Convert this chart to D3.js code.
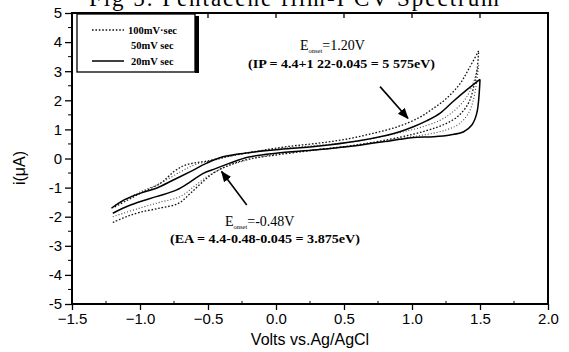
<!DOCTYPE html>
<html><head><meta charset="utf-8">
<script src="https://cdn.jsdelivr.net/npm/d3@7"></script>
<style>body{margin:0;background:#fff}svg{display:block}</style>
</head><body>
<svg id="c" width="569" height="352"></svg>
<script>
// ---- data (volts, current in µA) ----
const xTicks = [-1.5, -1.0, -0.5, 0.0, 0.5, 1.0, 1.5, 2.0];
const yTicks = [-5, -4, -3, -2, -1, 0, 1, 2, 3, 4, 5];
const seriesNames = ["100mV·sec", "50mV sec", "20mV sec"];

// 100 mV/s loop (dotted)
const s100Lower = [[-1.2,-2.2],[-1.1,-2.0],[-1.0,-1.85],[-0.85,-1.7],[-0.72,-1.55],[-0.63,-1.2],[-0.55,-0.85],[-0.46,-0.5],[-0.34,-0.22],[-0.2,-0.02],[0,0.12],[0.3,0.3],[0.6,0.47],[0.9,0.72],[1.1,0.95],[1.25,1.2],[1.35,1.5],[1.42,1.95],[1.46,2.6],[1.48,3.1],[1.49,3.7]];
const s100Upper = [[1.49,3.7],[1.42,3.1],[1.35,2.55],[1.25,2.05],[1.15,1.7],[1.05,1.4],[0.9,1.1],[0.7,0.85],[0.5,0.65],[0.3,0.52],[0.1,0.42],[-0.1,0.28],[-0.3,0.12],[-0.42,0.0],[-0.52,-0.1],[-0.6,-0.15],[-0.68,-0.25],[-0.75,-0.45],[-0.85,-0.85],[-1.0,-1.2],[-1.1,-1.45],[-1.2,-1.7]];
// 50 mV/s loop (fine dashes)
const s50Lower = [[-1.2,-2.0],[-1.0,-1.7],[-0.85,-1.5],[-0.7,-1.3],[-0.6,-0.95],[-0.5,-0.6],[-0.4,-0.35],[-0.25,-0.1],[0,0.15],[0.3,0.3],[0.6,0.45],[0.9,0.68],[1.1,0.82],[1.25,0.98],[1.35,1.2],[1.42,1.6],[1.46,2.2],[1.49,3.2]];
const s50Upper = [[1.49,3.2],[1.45,2.6],[1.4,2.1],[1.3,1.6],[1.2,1.3],[1.05,1.05],[0.9,0.88],[0.6,0.6],[0.3,0.45],[0,0.33],[-0.3,0.12],[-0.45,-0.05],[-0.6,-0.22],[-0.7,-0.45],[-0.85,-0.85],[-1.0,-1.15],[-1.2,-1.65]];
// 20 mV/s loop (solid)
const s20Lower = [[-1.2,-1.88],[-1.07,-1.6],[-0.88,-1.31],[-0.73,-1.08],[-0.63,-0.8],[-0.535,-0.51],[-0.44,-0.34],[-0.34,-0.16],[-0.2,0.05],[0,0.18],[0.3,0.3],[0.6,0.45],[0.8,0.58],[0.91,0.66],[1.01,0.72],[1.16,0.75],[1.28,0.81],[1.38,0.92],[1.44,1.15],[1.476,1.55],[1.5,2.72]];
const s20Upper = [[1.5,2.72],[1.4,2.35],[1.3,1.95],[1.21,1.57],[1.11,1.3],[1.01,1.09],[0.91,0.92],[0.8,0.78],[0.6,0.6],[0.3,0.42],[0,0.3],[-0.2,0.2],[-0.39,0.06],[-0.51,-0.16],[-0.63,-0.45],[-0.755,-0.74],[-0.88,-1.02],[-1.0,-1.2],[-1.12,-1.43],[-1.21,-1.71]];

// annotations (data coords)
const arrowIP = [[0.765,2.47],[0.97,1.38]];
const arrowEA = [[-0.215,-1.6],[-0.40,-0.45]];

// ---- drawing ----
const svg = d3.select("#c");
const m = {l:72, r:548, t:13, b:304};
const x = d3.scaleLinear().domain([-1.5, 2.0]).range([m.l, m.r]);
const y = d3.scaleLinear().domain([-5, 5]).range([m.b, m.t]);

// title (cut at top, as in the scan)
svg.append("text").attr("x", 89).attr("y", 6)
  .attr("font-family","Liberation Serif, Times New Roman, serif").attr("font-size", 23)
  .attr("textLength", 410).attr("lengthAdjust","spacing")
  .text("Fig 5. Pentacene film-I CV Spectrum");

// axes
const sans = "Liberation Sans, Arial, sans-serif";
const xa = svg.append("g").attr("transform",`translate(0,${m.b})`)
  .call(d3.axisBottom(x).tickValues(xTicks).tickSize(6).tickPadding(3).tickFormat(d3.format(".1f")));
xa.selectAll("text").attr("font-family",sans).attr("font-size",15).attr("fill","#000");
const ya = svg.append("g").attr("transform",`translate(${m.l},0)`)
  .call(d3.axisLeft(y).tickValues(yTicks).tickSize(7).tickPadding(3).tickFormat(d=>d));
ya.selectAll("text").attr("font-family",sans).attr("font-size",15).attr("fill","#000");
[xa, ya].forEach(a => { a.select(".domain").remove(); a.selectAll("line").attr("stroke","#000").attr("stroke-width",1.3); });

// minor ticks
const xMinor = d3.range(-1.25, 2.0, 0.5);
svg.append("g").selectAll("line").data(xMinor).join("line")
  .attr("x1", d=>x(d)).attr("x2", d=>x(d)).attr("y1", m.b).attr("y2", m.b-3).attr("stroke","#000");
svg.append("g").selectAll("line").data(xTicks).join("line")
  .attr("x1", d=>x(d)).attr("x2", d=>x(d)).attr("y1", m.t).attr("y2", m.t+5).attr("stroke","#000").attr("stroke-width",1.3);
const yMinor = d3.range(-4.5, 5, 1);
svg.append("g").selectAll("line").data(yMinor).join("line")
  .attr("x1", m.l).attr("x2", m.l-4).attr("y1", d=>y(d)).attr("y2", d=>y(d)).attr("stroke","#000");

// frame
svg.append("rect").attr("x", m.l).attr("y", m.t).attr("width", m.r-m.l).attr("height", m.b-m.t)
  .attr("fill","none").attr("stroke","#000").attr("stroke-width",2);

// axis titles
svg.append("text").attr("x", (m.l+m.r)/2).attr("y", 345).attr("text-anchor","middle")
  .attr("font-family",sans).attr("font-size",16).text("Volts vs.Ag/AgCl");
svg.append("text").attr("transform","translate(25,168) rotate(-90)").attr("text-anchor","middle")
  .attr("font-family",sans).attr("font-size",16).text("i(μA)");

// curves
const line = d3.line().x(d=>x(d[0])).y(d=>y(d[1])).curve(d3.curveCatmullRom.alpha(0.5));
const g = svg.append("g");
const styles = [
  {lower:s100Lower, upper:s100Upper, dash:"1.6,1.8", w:1.3, c:"#111"},
  {lower:s50Lower, upper:s50Upper, dash:"1,2", w:1.1, c:"#444"},
  {lower:s20Lower, upper:s20Upper, dash:null, w:1.5, c:"#000"}
];
styles.forEach(s => {
  [s.lower, s.upper].forEach(arr => {
    g.append("path").attr("d", line(arr)).attr("fill","none").attr("stroke", s.c)
      .attr("stroke-width", s.w).attr("stroke-dasharray", s.dash);
  });
});

// legend
const lg = svg.append("g");
lg.append("rect").attr("x",77).attr("y",14).attr("width",118).attr("height",58)
  .attr("fill","#fff").attr("stroke","#000").attr("stroke-width",1.3);
lg.append("rect").attr("x",195).attr("y",16).attr("width",4).attr("height",57).attr("fill","#000");
const serif = "Liberation Serif, Times New Roman, serif";
const ly = [30, 45, 61];
styles.forEach((s,k) => {
  if (k !== 1) lg.append("line").attr("x1",92).attr("x2",124).attr("y1",ly[k]).attr("y2",ly[k])
    .attr("stroke",s.c).attr("stroke-width",s.w).attr("stroke-dasharray",s.dash);
  lg.append("text").attr("x", k===0?128:131).attr("y", ly[k]+3.5).attr("font-family",serif)
    .attr("font-size",10.5).attr("font-weight","bold").text(seriesNames[k]);
});

// annotations
svg.append("defs").append("marker").attr("id","ah").attr("viewBox","0 0 10 10")
  .attr("refX",9).attr("refY",5).attr("markerWidth",7).attr("markerHeight",7).attr("orient","auto")
  .append("path").attr("d","M0,1 L10,5 L0,9 Z").attr("fill","#000");
[arrowIP, arrowEA].forEach(a => {
  svg.append("line").attr("x1",x(a[0][0])).attr("y1",y(a[0][1])).attr("x2",x(a[1][0])).attr("y2",y(a[1][1]))
    .attr("stroke","#000").attr("stroke-width",1.6).attr("marker-end","url(#ah)");
});
function eLabel(x0, y0, val) {
  const t = svg.append("text").attr("x",x0).attr("y",y0).attr("font-family",serif).attr("font-size",14);
  t.append("tspan").text("E");
  t.append("tspan").attr("font-size",6.5).attr("dy",3).text("onset");
  t.append("tspan").attr("dy",-3).text("=" + val);
}
eLabel(300, 50, "1.20V");
svg.append("text").attr("x",248).attr("y",68).attr("font-family",serif).attr("font-size",11.5)
  .attr("font-weight","bold").attr("textLength",187).attr("lengthAdjust","spacingAndGlyphs")
  .text("(IP = 4.4+1 22-0.045 = 5 575eV)");
eLabel(225, 226, "-0.48V");
svg.append("text").attr("x",170).attr("y",243).attr("font-family",serif).attr("font-size",11.5)
  .attr("font-weight","bold").attr("textLength",190).attr("lengthAdjust","spacingAndGlyphs")
  .text("(EA = 4.4-0.48-0.045 = 3.875eV)");
</script>
</body></html>
